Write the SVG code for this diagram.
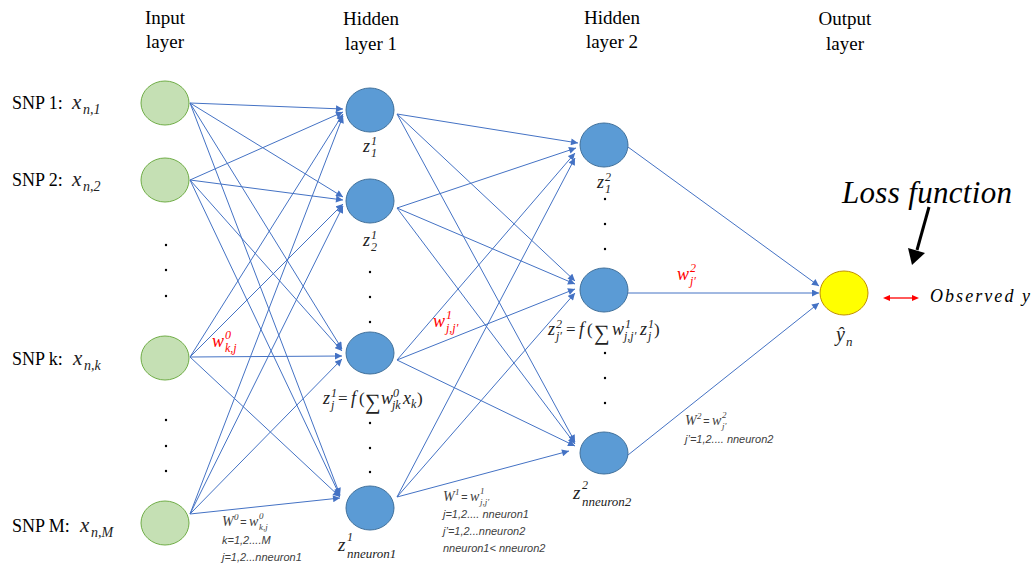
<svg xmlns="http://www.w3.org/2000/svg" width="1036" height="568" viewBox="0 0 1036 568">
<style>
.hdr{font-family:"Liberation Serif",serif;font-size:19px;fill:#000;text-anchor:middle}
.snp{font-family:"Liberation Serif",serif;font-size:18px;fill:#000}
.mi{font-family:"Liberation Serif",serif;font-style:italic;font-size:18px;fill:#222}
.mu{font-family:"Liberation Serif",serif;font-size:17px;fill:#222}
.sm{font-size:12px}
.red{fill:#FF0000}
.note{font-family:"Liberation Sans",sans-serif;font-style:italic;font-size:11px;fill:#404040}
.nm{font-family:"Liberation Serif",serif;font-style:italic;font-size:14px;fill:#404040}
.ns{font-size:9px}
.dot{fill:#000}
.in{fill:#C5E0B4;stroke:#70AD47;stroke-width:1}
.hid{fill:#5B9BD5;stroke:#41719C;stroke-width:1}
.out{fill:#FFFF00;stroke:#BF9000;stroke-width:1}
.e{stroke:#4472C4;stroke-width:1;fill:none;marker-end:url(#arr)}
</style>
<defs>
<marker id="arr" viewBox="0 0 10 10" refX="10" refY="5" markerWidth="8" markerHeight="7" markerUnits="userSpaceOnUse" orient="auto">
<path d="M0,0 L10,5 L0,10 z" fill="#4472C4"/>
</marker>
</defs>
<rect width="1036" height="568" fill="#fff"/>

<!-- headers -->
<text class="hdr" x="165" y="24">Input</text>
<text class="hdr" x="165" y="48">layer</text>
<text class="hdr" x="371" y="25">Hidden</text>
<text class="hdr" x="371" y="50">layer 1</text>
<text class="hdr" x="612" y="24">Hidden</text>
<text class="hdr" x="612" y="48">layer 2</text>
<text class="hdr" x="845" y="25">Output</text>
<text class="hdr" x="845" y="50">layer</text>

<!-- connectors -->
<g id="connectors">
<line class="e" x1="190" y1="103" x2="343" y2="109"/>
<line class="e" x1="190" y1="180" x2="343" y2="112"/>
<line class="e" x1="190" y1="357" x2="343" y2="114"/>
<line class="e" x1="190" y1="514" x2="343" y2="116"/>
<line class="e" x1="190" y1="103" x2="343" y2="197"/>
<line class="e" x1="190" y1="180" x2="343" y2="200"/>
<line class="e" x1="190" y1="357" x2="343" y2="204"/>
<line class="e" x1="190" y1="514" x2="343" y2="206"/>
<line class="e" x1="190" y1="103" x2="342" y2="349"/>
<line class="e" x1="190" y1="180" x2="342" y2="351"/>
<line class="e" x1="190" y1="357" x2="342" y2="356"/>
<line class="e" x1="190" y1="514" x2="342" y2="359"/>
<line class="e" x1="190" y1="103" x2="340" y2="495"/>
<line class="e" x1="190" y1="180" x2="340" y2="496"/>
<line class="e" x1="190" y1="357" x2="340" y2="497"/>
<line class="e" x1="190" y1="514" x2="340" y2="498"/>

<line class="e" x1="397" y1="114" x2="578" y2="143"/>
<line class="e" x1="397" y1="208" x2="576" y2="148"/>
<line class="e" x1="397" y1="360" x2="575" y2="153"/>
<line class="e" x1="397" y1="497" x2="575" y2="158"/>
<line class="e" x1="397" y1="114" x2="575" y2="281"/>
<line class="e" x1="397" y1="208" x2="575" y2="284"/>
<line class="e" x1="397" y1="360" x2="575" y2="289"/>
<line class="e" x1="397" y1="497" x2="575" y2="293"/>
<line class="e" x1="397" y1="114" x2="575" y2="442"/>
<line class="e" x1="397" y1="208" x2="575" y2="444"/>
<line class="e" x1="397" y1="360" x2="575" y2="446"/>
<line class="e" x1="397" y1="497" x2="569" y2="451"/>

<line class="e" x1="628" y1="147" x2="819" y2="286"/>
<line class="e" x1="628" y1="293" x2="819" y2="293"/>
<line class="e" x1="628" y1="455" x2="819" y2="303"/>

<!-- loss arrow -->
<line x1="929" y1="207" x2="917" y2="250" stroke="#000" stroke-width="3"/>
<polygon points="908,248 925,253 912,265" fill="#000"/>
<!-- observed double arrow -->
<line x1="886" y1="298" x2="916" y2="298" stroke="#FF0000" stroke-width="1.3"/>
<polygon points="883,298 890,295 890,301" fill="#FF0000"/>
<polygon points="919,298 912,295 912,301" fill="#FF0000"/>
</g>

<!-- input nodes -->
<g id="in1"><ellipse class="in" cx="165" cy="103" rx="24" ry="22"/>
<text class="snp" x="12" y="109">SNP 1:</text><text class="mi" x="72" y="109" style="font-size:21px">x</text><text class="mi" x="83" y="114" style="font-size:14px">n,1</text></g>
<g id="in2"><ellipse class="in" cx="165" cy="180" rx="24" ry="22"/>
<text class="snp" x="12" y="186">SNP 2:</text><text class="mi" x="72" y="186" style="font-size:21px">x</text><text class="mi" x="83" y="191" style="font-size:14px">n,2</text></g>
<g id="ink"><ellipse class="in" cx="165" cy="358" rx="24" ry="22"/>
<text class="snp" x="12" y="365">SNP k:</text><text class="mi" x="73" y="365" style="font-size:21px">x</text><text class="mi" x="84" y="370" style="font-size:14px">n,k</text></g>
<g id="inM"><ellipse class="in" cx="165" cy="523" rx="24" ry="22"/>
<text class="snp" x="12" y="532">SNP M:</text><text class="mi" x="80" y="532" style="font-size:21px">x</text><text class="mi" x="91" y="537" style="font-size:14px">n,M</text></g>
<g id="indots">
<circle class="dot" cx="166" cy="245" r="1.2"/><circle class="dot" cx="166" cy="270" r="1.2"/><circle class="dot" cx="166" cy="296" r="1.2"/>
<circle class="dot" cx="166" cy="420" r="1.2"/><circle class="dot" cx="166" cy="446" r="1.2"/><circle class="dot" cx="166" cy="471" r="1.2"/>
</g>

<!-- hidden layer 1 -->
<g id="h1"><ellipse class="hid" cx="370" cy="110" rx="24" ry="22"/>
<text class="mi" x="363" y="152">z</text><text class="mi sm" x="371" y="145">1</text><text class="mi sm" x="371" y="157">1</text></g>
<g id="h2"><ellipse class="hid" cx="370" cy="201" rx="24" ry="22"/>
<text class="mi" x="363" y="246">z</text><text class="mi sm" x="371" y="239">1</text><text class="mi sm" x="371" y="251">2</text></g>
<g id="h3"><ellipse class="hid" cx="370" cy="353" rx="24" ry="21"/>
<text class="mi" x="323" y="404">z</text><text class="mi sm" x="331" y="397">1</text><text class="mi sm" x="331" y="409">j</text>
<text class="mu" x="338" y="404">=</text><text class="mi" x="351" y="404">f</text><text class="mu" x="359" y="404">(</text>
<text x="365" y="409" style="font-family:'Liberation Serif',serif;font-size:22px;fill:#222">∑</text>
<text class="mi" x="381" y="404">w</text><text class="mi sm" x="393" y="397">0</text><text class="mi sm" x="392" y="409">jk</text>
<text class="mi" x="403" y="404">x</text><text class="mi sm" x="411" y="408">k</text><text class="mu" x="417" y="404">)</text></g>
<g id="h4"><ellipse class="hid" cx="370" cy="508" rx="24" ry="22"/>
<text class="mi" x="338" y="551" style="font-size:19px">z</text><text class="mi" x="347" y="541" style="font-size:12px">1</text><text class="mi" x="347" y="558" style="font-size:13px">nneuron1</text></g>
<g id="h1dots">
<circle class="dot" cx="370" cy="272" r="1.2"/><circle class="dot" cx="370" cy="297" r="1.2"/><circle class="dot" cx="370" cy="322" r="1.2"/>
<circle class="dot" cx="370" cy="423" r="1.2"/><circle class="dot" cx="370" cy="448" r="1.2"/><circle class="dot" cx="370" cy="472" r="1.2"/>
</g>

<!-- hidden layer 2 -->
<g id="g1"><ellipse class="hid" cx="604" cy="145" rx="24" ry="22"/>
<text class="mi" x="597" y="188">z</text><text class="mi sm" x="605" y="181">2</text><text class="mi sm" x="605" y="193">1</text></g>
<g id="g2"><ellipse class="hid" cx="604" cy="290" rx="24" ry="22"/>
<text class="mi" x="548" y="335">z</text><text class="mi sm" x="556" y="328">2</text><text class="mi sm" x="556" y="340">j′</text>
<text class="mu" x="566" y="335">=</text><text class="mi" x="579" y="335">f</text><text class="mu" x="587" y="335">(</text>
<text x="594" y="340" style="font-family:'Liberation Serif',serif;font-size:22px;fill:#222">∑</text>
<text class="mi" x="612" y="335">w</text><text class="mi sm" x="625" y="328">1</text><text class="mi sm" x="624" y="340">j,j′</text>
<text class="mi" x="640" y="335">z</text><text class="mi sm" x="648" y="328">1</text><text class="mi sm" x="648" y="340">j</text><text class="mu" x="654" y="335">)</text></g>
<g id="g3"><ellipse class="hid" cx="604" cy="453" rx="24" ry="21"/>
<text class="mi" x="573" y="499" style="font-size:19px">z</text><text class="mi" x="582" y="489" style="font-size:12px">2</text><text class="mi" x="582" y="506" style="font-size:13px">nneuron2</text></g>
<g id="g2dots">
<circle class="dot" cx="605" cy="199" r="1.2"/><circle class="dot" cx="605" cy="224" r="1.2"/><circle class="dot" cx="605" cy="249" r="1.2"/>
<circle class="dot" cx="605" cy="353" r="1.2"/><circle class="dot" cx="605" cy="378" r="1.2"/><circle class="dot" cx="605" cy="403" r="1.2"/>
</g>

<!-- output -->
<g id="out"><ellipse class="out" cx="844" cy="293" rx="24" ry="22"/>
<text class="mi" x="836" y="341" style="font-size:20px">ŷ</text><text class="mi" x="846" y="346" style="font-size:13px">n</text></g>

<!-- weights labels -->
<g id="w0"><text class="mi red" x="212" y="347">w</text><text class="mi sm red" x="225" y="339">0</text><text class="mi sm red" x="225" y="352">k,j</text></g>
<g id="w1"><text class="mi red" x="433" y="327">w</text><text class="mi sm red" x="446" y="319">1</text><text class="mi sm red" x="446" y="332">j,j′</text></g>
<g id="w2"><text class="mi red" x="677" y="280">w</text><text class="mi sm red" x="690" y="272">2</text><text class="mi sm red" x="690" y="285">j′</text></g>

<!-- notes -->
<g id="n0">
<text class="nm" x="222" y="526">W</text><text class="nm ns" x="234" y="520">0</text><text class="note" x="240" y="526">=</text>
<text class="nm" x="249" y="526">w</text><text class="nm ns" x="259" y="519">0</text><text class="nm ns" x="259" y="530">k,j</text>
<text class="note" x="222" y="544">k=1,2....M</text>
<text class="note" x="222" y="561">j=1,2...nneuron1</text>
</g>
<g id="n1">
<text class="nm" x="443" y="501">W</text><text class="nm ns" x="455" y="495">1</text><text class="note" x="461" y="501">=</text>
<text class="nm" x="470" y="501">w</text><text class="nm ns" x="480" y="494">1</text><text class="nm ns" x="480" y="505">j,j′</text>
<text class="note" x="443" y="518">j=1,2.... nneuron1</text>
<text class="note" x="443" y="535">j’=1,2...nneuron2</text>
<text class="note" x="443" y="552">nneuron1&lt; nneuron2</text>
</g>
<g id="n2">
<text class="nm" x="685" y="425">W</text><text class="nm ns" x="697" y="419">2</text><text class="note" x="703" y="425">=</text>
<text class="nm" x="712" y="425">w</text><text class="nm ns" x="722" y="418">2</text><text class="nm ns" x="722" y="429">j′</text>
<text class="note" x="685" y="443">j’=1,2.... nneuron2</text>
</g>

<g id="loss">
<text x="842" y="203" textLength="170" style="font-family:'Liberation Serif',serif;font-style:italic;font-size:31px;fill:#000">Loss function</text>
</g>
<g id="observed">
<text class="mi" x="930" y="302" textLength="100" style="font-size:18px;fill:#000">Observed y</text>
</g>
</svg>
